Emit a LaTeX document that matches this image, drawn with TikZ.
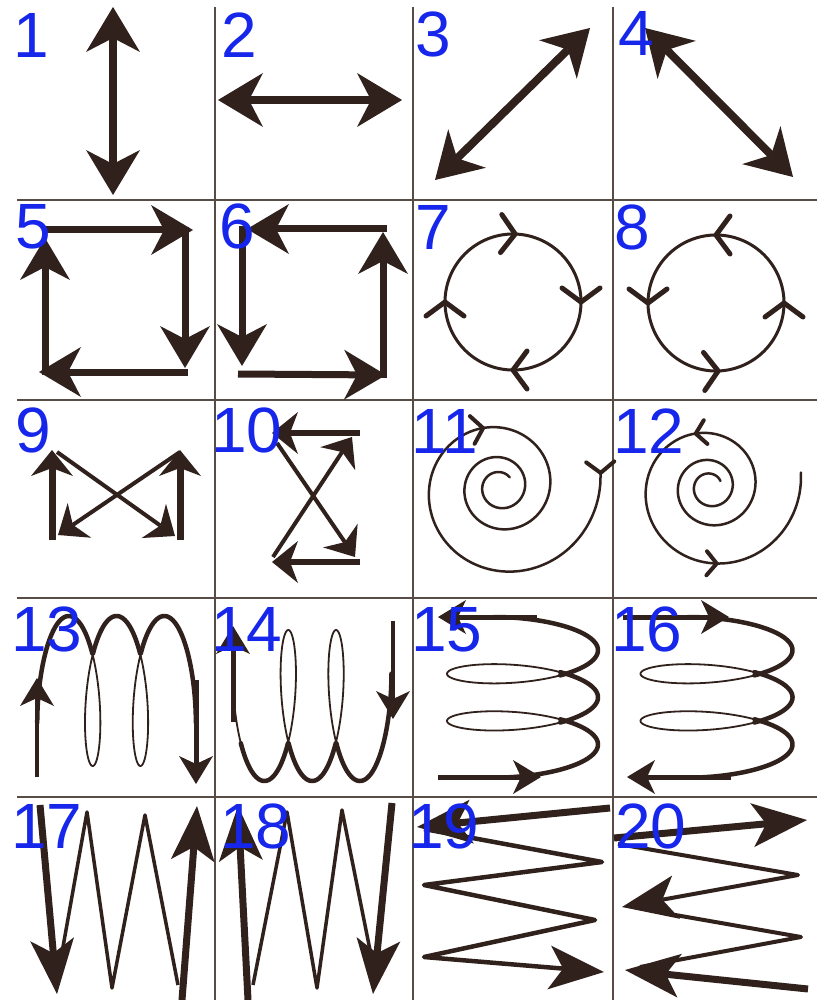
\documentclass[tikz,border=0pt]{standalone}
\usepackage{fontspec}
\setmainfont{Liberation Sans}
\usepackage{tikz}
\usetikzlibrary{arrows.meta,decorations.markings}
\definecolor{ink}{RGB}{48,33,28}
\definecolor{gridc}{RGB}{88,76,70}
\definecolor{numblue}{RGB}{22,38,235}
\tikzset{
  bigtip/.tip={Stealth[length=45pt,width=54pt,inset=14pt,line width=0pt]},
  boxtip/.tip={Stealth[length=42pt,width=50pt,inset=13pt,line width=0pt]},
  midtip/.tip={Stealth[length=26pt,width=42pt,inset=8pt,line width=0pt]},
  coiltip/.tip={Stealth[length=28pt,width=34pt,inset=8pt,line width=0pt]},
  zigtip/.tip={Stealth[length=55pt,width=44pt,inset=14pt,line width=0pt]}
}
\newcommand{\barbmark}[3]{\draw[ink,line width=#3pt,line cap=round] (-#1pt,-#2pt) -- (0pt,0pt) -- (-#1pt,#2pt);}

\begin{document}
\begin{tikzpicture}[x=1pt,y=-1pt,
  num/.style={font=\fontsize{64}{64}\selectfont,text=numblue,anchor=base west,inner sep=0pt},
  gridline/.style={draw=gridc,line width=2pt},
  heavy/.style={draw=ink,line width=8pt},
  box/.style={draw=ink,line width=7pt},
  ring/.style={draw=ink,line width=3pt,line cap=round},
  ringmarks/.style={postaction={decorate,decoration={markings,
      mark=at position 0.125 with {\barbmark{14}{19}{5}},
      mark=at position 0.375 with {\barbmark{14}{19}{5}},
      mark=at position 0.625 with {\barbmark{14}{19}{5}},
      mark=at position 0.88 with {\barbmark{14}{19}{5}}}}},
  spiral/.style={draw=ink,line width=2.5pt,line cap=round},
  coil/.style={draw=ink,line width=1.8pt},
  coilfront/.style={draw=ink,line width=4.5pt,line cap=round},
  zig/.style={draw=ink,line width=3.5pt,line join=round},
  zigbold/.style={draw=ink,line width=7pt}
]
\fill[white] (0,0) rectangle (817,1000);
\useasboundingbox (0,0) rectangle (817,1000);

% grid
\foreach \gy in {200,400,598,797} \draw[gridline] (17,\gy) -- (817,\gy);
\foreach \gx in {215,413,613} \draw[gridline] (\gx,7) -- (\gx,1000);

% row 1
\draw[heavy,bigtip-bigtip] (113,195) -- (113,7);
\draw[heavy,bigtip-bigtip] (218,100) -- (402,100);
\draw[heavy,bigtip-bigtip] (435,180) -- (590,28);
\draw[heavy,bigtip-bigtip] (645,28) -- (793,177);

% row 2
\draw[box,-boxtip] (42,230) -- (193,230);
\draw[box,-boxtip] (185,227) -- (185,368);
\draw[box,-boxtip] (188,372) -- (39,372);
\draw[box,-boxtip] (45,375) -- (45,238);

\draw[box,-boxtip] (387,229) -- (247,229);
\draw[box,-boxtip] (242,226) -- (242,366);
\draw[box,-boxtip] (238,374) -- (386,375);
\draw[box,-boxtip] (383,378) -- (383,232);

\draw[ring,ringmarks] plot[domain=-45:315,samples=73,smooth,variable=\u] ({513+68*cos(\u)},{302+68*sin(\u)});
\draw[ring,ringmarks] plot[domain=-45:315,samples=73,smooth,variable=\u] ({716+68*cos(\u)},{303-68*sin(\u)});

% row 3
\draw[ink,line width=7pt,-midtip] (52,540) -- (52,450);
\draw[ink,line width=4pt,-midtip] (57,452) -- (175,536);
\draw[ink,line width=7pt,-midtip] (180,540) -- (180,450);
\draw[ink,line width=4pt,-midtip] (180,452) -- (58,535);

\draw[ink,line width=6pt,-midtip] (360,433) -- (272,433);
\draw[ink,line width=4pt,-midtip] (277,443) -- (355,557);
\draw[ink,line width=6pt,-midtip] (360,562) -- (272,562);
\draw[ink,line width=4pt,-midtip] (273,557) -- (352,437);

\draw[spiral] plot[domain=-8:1035,samples=160,smooth,variable=\u]
  ({500+100*exp(-0.0019254*\u)*cos(\u)},{487+100*exp(-0.0019254*\u)*sin(\u)});
\begin{scope}[shift={(600.6,472.9)},rotate=-88]\barbmark{11}{14}{4}\end{scope}
\begin{scope}[shift={(483.1,428.1)},rotate=9.7]\barbmark{11}{14}{4}\end{scope}

\draw[spiral] plot[domain=-690:369,samples=160,smooth,variable=\u]
  ({710+92*exp(0.0019254*(\u-369))*cos(\u)},{487-92*exp(0.0019254*(\u-369))*sin(\u)});
\begin{scope}[shift={(695.7,433.6)},rotate=188.7]\barbmark{10}{12}{4}\end{scope}
\begin{scope}[shift={(716.7,563.5)},rotate=-1.3]\barbmark{10}{12}{4}\end{scope}

% row 4
\draw[coil] plot[domain=-115:835,samples=300,smooth,variable=\u] ({68.8+0.13265*\u+18*sin(\u)},{691-75*cos(\u)});
\foreach \ua/\ub in {-115/60,300/420,660/835}
  \draw[coilfront] plot[domain=\ua:\ub,samples=60,smooth,variable=\u] ({68.8+0.13265*\u+18*sin(\u)},{691-75*cos(\u)});
\draw[ink,line width=4pt,-coiltip] (37,777) -- (37,678);
\draw[ink,line width=5pt,-coiltip] (196,680) -- (196,784);

\draw[coil] plot[domain=-115:835,samples=300,smooth,variable=\u] ({264.4+0.13265*\u+18*sin(\u)},{705.5+75.5*cos(\u)});
\foreach \ua/\ub in {-60/60,300/420,660/835}
  \draw[coilfront] plot[domain=\ua:\ub,samples=60,smooth,variable=\u] ({264.4+0.13265*\u+18*sin(\u)},{705.5+75.5*cos(\u)});
\draw[ink,line width=5pt,-coiltip] (233,722) -- (233,626);
\draw[ink,line width=4pt,-coiltip] (393,621) -- (393,719);

\draw[coil] plot[domain=-112:832,samples=300,smooth,variable=\u] ({522.5+75.5*cos(\u)},{650.2+0.1309*\u+20*sin(\u)});
\foreach \ua/\ub in {-112/60,300/420,660/832}
  \draw[coilfront] plot[domain=\ua:\ub,samples=60,smooth,variable=\u] ({522.5+75.5*cos(\u)},{650.2+0.1309*\u+20*sin(\u)});
\draw[ink,line width=5pt,-coiltip] (537,617) -- (438,617);
\draw[ink,line width=5pt,-coiltip] (438,777) -- (541,777);

\draw[coil] plot[domain=-112:832,samples=300,smooth,variable=\u] ({716.5+76*cos(\u)},{650.2+0.1309*\u+20*sin(\u)});
\foreach \ua/\ub in {-112/60,300/420,660/832}
  \draw[coilfront] plot[domain=\ua:\ub,samples=60,smooth,variable=\u] ({716.5+76*cos(\u)},{650.2+0.1309*\u+20*sin(\u)});
\draw[ink,line width=5pt,-coiltip] (623,617) -- (729,617);
\draw[ink,line width=5pt,-coiltip] (731,777) -- (627,777);

% row 5
\draw[zig] (58,975) -- (87,812) -- (112,988) -- (145,815) -- (178,985);
\draw[zigbold,-zigtip] (40,805) -- (57,994);
\draw[zigbold,-zigtip] (182,1000) -- (197,806);

\draw[zig] (253,985) -- (287,812) -- (317,988) -- (342,810) -- (372,960);
\draw[zigbold,-zigtip] (248,1000) -- (238,806);
\draw[zigbold,-zigtip] (392,803) -- (373,994);

\draw[zigbold,-zigtip] (610,808) -- (417,827);
\draw[zig,line width=4.5pt,-zigtip] (424,829) -- (602,862) -- (424,885) -- (595,920) -- (424,957) -- (604,972);

\draw[zigbold,-zigtip] (614,838) -- (807,820);
\draw[zig,line width=4pt,-zigtip] (618,844) -- (798,875) -- (622,907);
\draw[zig,line width=4pt] (664,913) -- (801,937) -- (640,967);
\draw[zigbold,-zigtip] (808,989) -- (625,970);

% labels
\foreach \n/\px/\py in {1/13/58,2/221/58,3/415/57,4/618/56,
    5/15/248,6/219/248,7/415/249,8/614/249,
    9/15/452,10/211/452,11/411/453,12/613/453,
    13/11/651,14/211/651,15/411/651,16/611/651,
    17/11/848,18/220/848,19/408/848,20/615/848}
  \node[num] (n\n) at (\px,\py) {\n};
\end{tikzpicture}
\end{document}
